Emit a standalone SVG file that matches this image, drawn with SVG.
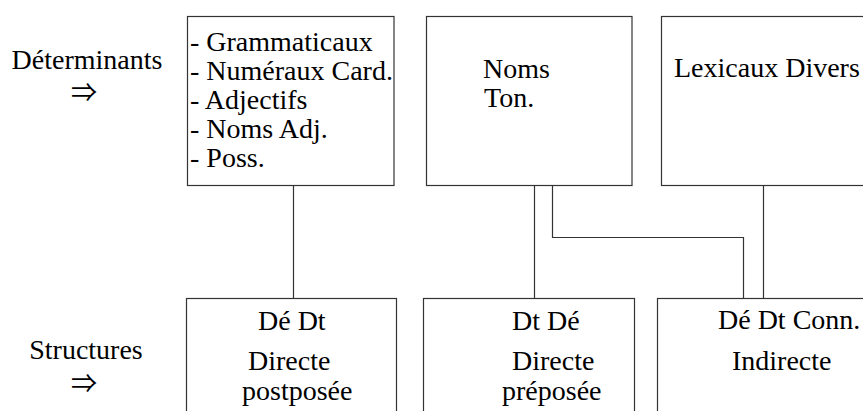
<svg xmlns="http://www.w3.org/2000/svg" width="863" height="411" viewBox="0 0 863 411">
<style>
text{font-family:"Liberation Serif","Times New Roman",serif;font-size:28px;fill:#000}
.arr{font-family:"Noto Sans CJK JP","DejaVu Serif",serif;font-size:26px;text-anchor:middle}
.box{fill:#fff;stroke:#333;stroke-width:1.2}
.c{fill:none;stroke:#333;stroke-width:1.2}
</style>
<rect width="863" height="411" fill="#fff"/>
<g id="label-determinants">
<text x="87" y="69" text-anchor="middle">Déterminants</text>
<text class="arr" x="84" y="102">⇒</text>
</g>
<g id="label-structures">
<text x="86" y="359" text-anchor="middle">Structures</text>
<text class="arr" x="84" y="393">⇒</text>
</g>
<g id="connectors">
<path class="c" d="M293.5 186V298"/>
<path class="c" d="M534.5 186V298"/>
<path class="c" d="M552.5 186V237.5H743.5V298"/>
<path class="c" d="M763.5 186V298"/>
</g>
<g id="n-gram">
<rect class="box" x="187.5" y="16.5" width="206.5" height="169"/>
<text x="190" y="51">- Grammaticaux</text>
<text x="190" y="80">- Numéraux Card.</text>
<text x="190" y="109">- Adjectifs</text>
<text x="190" y="138">- Noms Adj.</text>
<text x="190" y="167">- Poss.</text>
</g>
<g id="n-noms">
<rect class="box" x="426.5" y="16.5" width="205.5" height="169"/>
<text x="483" y="78">Noms</text>
<text x="484" y="107">Ton.</text>
</g>
<g id="n-lex">
<rect class="box" x="661.5" y="16.5" width="210" height="169"/>
<text x="674" y="77">Lexicaux Divers</text>
</g>
<g id="n-post">
<rect class="box" x="186.5" y="298.5" width="210" height="130"/>
<text x="258" y="330">Dé Dt</text>
<text x="248" y="370">Directe</text>
<text x="242" y="400">postposée</text>
</g>
<g id="n-pre">
<rect class="box" x="423.5" y="298.5" width="211" height="130"/>
<text x="512" y="330">Dt Dé</text>
<text x="512" y="370">Directe</text>
<text x="502" y="400">préposée</text>
</g>
<g id="n-ind">
<rect class="box" x="657.5" y="298.5" width="220" height="130"/>
<text x="718" y="329">Dé Dt Conn.</text>
<text x="732" y="370">Indirecte</text>
</g>
</svg>
